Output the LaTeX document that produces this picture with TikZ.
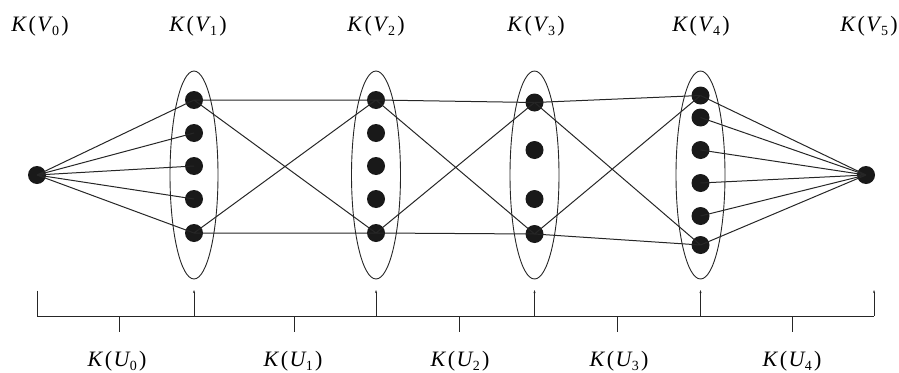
\documentclass[tikz,border=0pt]{standalone}
\usepackage{fontspec}
\setmainfont{Liberation Serif}
\usetikzlibrary{arrows.meta}
\newcommand\klbl[2]{\fontsize{22}{22}\selectfont\textit{K}\kern0.08em(\kern0.06em\textit{#1}\kern-0.03em\raisebox{-4.5pt}{\fontsize{14}{14}\selectfont #2}\kern0.1em)}
\begin{document}
\begin{tikzpicture}[x=1pt,y=-1pt,
  dot/.style={circle,fill=black!90,inner sep=0pt,minimum size=18pt},
  edge/.style={line width=1pt,black!85},
  grp/.style={line width=0.9pt,black!85},
  lbl/.style={anchor=base,inner sep=0pt},
  tick/.style={line width=1pt,black!85},
  tipped/.style={tick,-{Stealth[length=3pt,width=2pt]}}]
\useasboundingbox (0,0) rectangle (899,372);
% ellipses
\draw[grp] (194,175) ellipse [x radius=24,y radius=104];
\draw[grp] (376,175) ellipse [x radius=24.5,y radius=104];
\draw[grp] (534.5,175) ellipse [x radius=24.5,y radius=104];
\draw[grp] (700.5,175) ellipse [x radius=24.5,y radius=104];
% dots
\node[dot] (v0) at (37,175) {};
\node[dot] (v5) at (866,175) {};
\foreach \y [count=\i] in {100,133,166,199,233} {
  \node[dot] (a\i) at (194,\y) {};
  \node[dot] (b\i) at (376,\y) {};
}
\foreach \y [count=\i] in {102.5,150,199,234} \node[dot] (c\i) at (534.5,\y) {};
\foreach \y [count=\i] in {95.5,117.5,150,183,216,245} \node[dot] (d\i) at (700.5,\y) {};
% edges
\foreach \i in {1,...,5} \draw[edge] (v0.center) -- (a\i.center);
\foreach \i in {1,...,6} \draw[edge] (d\i.center) -- (v5.center);
\draw[edge] (a1.center) -- (b1.center) (a1.center) -- (b5.center) (a5.center) -- (b1.center) (a5.center) -- (b5.center);
\draw[edge] (b1.center) -- (c1.center) (b1.center) -- (c4.center) (b5.center) -- (c1.center) (b5.center) -- (c4.center);
\draw[edge] (c1.center) -- (d1.center) (c1.center) -- (d6.center) (c4.center) -- (d1.center) (c4.center) -- (d6.center);
% labels top
\node[lbl] (l0) at (40,31) {\klbl{V}{0}};
\node[lbl] (l1) at (198,31) {\klbl{V}{1}};
\node[lbl] (l2) at (376,31) {\klbl{V}{2}};
\node[lbl] (l3) at (536,31) {\klbl{V}{3}};
\node[lbl] (l4) at (701,31) {\klbl{V}{4}};
\node[lbl] (l5) at (869,31) {\klbl{V}{5}};
% bottom scale
\coordinate (s0) at (37,316);
\coordinate (s5) at (874,316);
\draw[tick] (37,290.5) -- (s0) -- (s5);
\foreach \x in {194,376,534.5,700.5,874} \draw[tipped] (\x,316) -- (\x,290);
\foreach \x in {119,294,459.5,617,792} \draw[tick] (\x,316) -- (\x,332);
\node[lbl] (u0) at (117,366) {\klbl{U}{0}};
\node[lbl] (u1) at (293,366) {\klbl{U}{1}};
\node[lbl] (u2) at (460,366) {\klbl{U}{2}};
\node[lbl] (u3) at (619,366) {\klbl{U}{3}};
\node[lbl] (u4) at (792,366) {\klbl{U}{4}};
\end{tikzpicture}
\end{document}
